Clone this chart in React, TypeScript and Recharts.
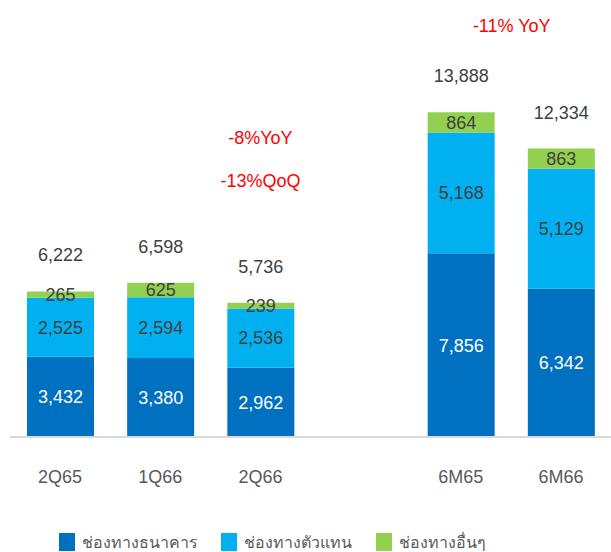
import React from "react";
import {
  BarChart,
  Bar,
  XAxis,
  YAxis,
  Legend,
  LabelList,
  ReferenceDot,
} from "recharts";

// quarter / half-year periods; the blank slot keeps the gap between groups
const categories = ["2Q65", "1Q66", "2Q66", " ", "6M65", "6M66"];
const bankChannel = [3432, 3380, 2962, null, 7856, 6342];
const agentChannel = [2525, 2594, 2536, null, 5168, 5129];
const otherChannel = [265, 625, 239, null, 864, 863];
const totals = [6222, 6598, 5736, null, 13888, 12334];

const seriesNames = ["ช่องทางธนาคาร", "ช่องทางตัวแทน", "ช่องทางอื่นๆ"];
const seriesColors = ["#0070C0", "#00B0F0", "#92D050"];

const FONT = "'Liberation Sans', Arial, sans-serif";

const chartData = categories.map((name, i) => ({
  name,
  bank: bankChannel[i],
  agent: agentChannel[i],
  other: otherChannel[i],
  total: totals[i],
}));

const fmt = (v: any) => (v == null ? "" : Number(v).toLocaleString("en-US"));

const itemWidths = [162, 155, 140];

function LegendContent() {
  return (
    <div
      style={{
        display: "flex",
        alignItems: "center",
        height: 20,
        paddingLeft: 49,
        fontFamily: FONT,
        fontSize: 16,
        color: "#595959",
      }}
    >
      {seriesNames.map((n, i) => (
        <div
          key={n}
          style={{ display: "flex", alignItems: "center", width: itemWidths[i] }}
        >
          <span
            style={{
              display: "inline-block",
              width: 16,
              height: 18,
              background: seriesColors[i],
              marginRight: 7,
            }}
          />
          <span>{n}</span>
        </div>
      ))}
    </div>
  );
}

function TotalLabel(props: any) {
  const { x, y, width, value } = props;
  if (value == null) return null;
  return (
    <text
      x={x + width / 2}
      y={y - 30}
      textAnchor="middle"
      fill="#404040"
      fontSize={18}
      fontFamily={FONT}
    >
      {fmt(value)}
    </text>
  );
}

function YoyLabel(props: any) {
  const { viewBox } = props;
  return (
    <text
      x={viewBox.x + viewBox.width / 2 + 51}
      y={viewBox.y + 8}
      textAnchor="middle"
      fill="#FF0000"
      fontSize={18}
      fontFamily={FONT}
    >
      -11% YoY
    </text>
  );
}

export default function App() {
  return (
    <div style={{ position: "absolute", left: 0, top: 0, background: "#fff" }}>
      <BarChart
        width={611}
        height={552}
        data={chartData}
        margin={{ top: 16, right: 0, left: 10, bottom: 0 }}
        barCategoryGap="33%"
      >
        <XAxis
          dataKey="name"
          tickLine={false}
          axisLine={{ stroke: "#D9D9D9", strokeWidth: 2 }}
          tick={{ fill: "#595959", fontSize: 18, fontFamily: FONT }}
          tickMargin={27}
          height={95}
          interval={0}
        />
        <YAxis hide domain={[0, 18000]} />
        <Legend verticalAlign="bottom" content={<LegendContent />} />
        <Bar
          dataKey="bank"
          stackId="a"
          fill={seriesColors[0]}
          barSize={67}
          isAnimationActive={false}
        >
          <LabelList
            dataKey="bank"
            position="center"
            formatter={fmt}
            fill="#FFFFFF"
            fontSize={18}
            fontFamily={FONT}
          />
        </Bar>
        <Bar
          dataKey="agent"
          stackId="a"
          fill={seriesColors[1]}
          barSize={67}
          isAnimationActive={false}
        >
          <LabelList
            dataKey="agent"
            position="center"
            formatter={fmt}
            fill="#404040"
            fontSize={18}
            fontFamily={FONT}
          />
        </Bar>
        <Bar
          dataKey="other"
          stackId="a"
          fill={seriesColors[2]}
          barSize={67}
          isAnimationActive={false}
        >
          <LabelList
            dataKey="other"
            position="center"
            formatter={fmt}
            fill="#404040"
            fontSize={18}
            fontFamily={FONT}
          />
          <LabelList dataKey="total" content={<TotalLabel />} />
        </Bar>
        <ReferenceDot
          x="2Q66"
          y={12820}
          r={0}
          fill="none"
          stroke="none"
          label={{
            value: "-8%YoY",
            position: "center",
            fill: "#FF0000",
            fontSize: 18,
            fontFamily: FONT,
          }}
        />
        <ReferenceDot
          x="2Q66"
          y={10980}
          r={0}
          fill="none"
          stroke="none"
          label={{
            value: "-13%QoQ",
            position: "center",
            fill: "#FF0000",
            fontSize: 18,
            fontFamily: FONT,
          }}
        />
        <ReferenceDot
          x="6M65"
          y={17650}
          r={0}
          fill="none"
          stroke="none"
          label={<YoyLabel />}
        />
      </BarChart>
    </div>
  );
}
